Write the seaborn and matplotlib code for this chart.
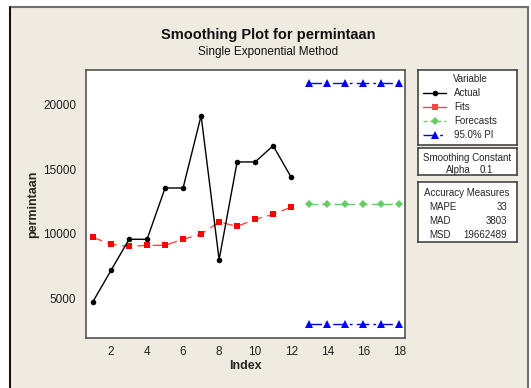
import matplotlib
matplotlib.use("Agg")
import matplotlib.pyplot as plt
import seaborn as sns
import pandas as pd
from matplotlib.patches import Rectangle

# data
index_actual = [1, 2, 3, 4, 5, 6, 7, 8, 9, 10, 11, 12]
actual = [4750, 7170, 9580, 9580, 13560, 13560, 19170, 8000, 15580, 15580, 16840, 14390]
fits = [9730, 9190, 9030, 9110, 9110, 9580, 9970, 10920, 10580, 11130, 11510, 12080]
index_forecast = [13, 14, 15, 16, 17, 18]
forecasts = [12300, 12300, 12300, 12300, 12300, 12300]
pi_upper = [21680, 21680, 21680, 21680, 21680, 21680]
pi_lower = [3000, 3000, 3000, 3000, 3000, 3000]
x_ticks = [2, 4, 6, 8, 10, 12, 14, 16, 18]
y_ticks = [5000, 10000, 15000, 20000]
measures = [("MAPE", "33"), ("MAD", "3803"), ("MSD", "19662489")]
alpha_value = "0.1"

W, H = 531, 388
BG = "#EFEBE0"

sns.set_style("white")
plt.rcParams["font.family"] = ["Liberation Sans", "DejaVu Sans"]


def px(x, y):
    # pixel position -> figure fraction
    return x / W, 1 - y / H


fig = plt.figure(figsize=(W / 100, H / 100), dpi=100)
fig.patch.set_facecolor("white")

# outer beige frame, kept behind the axes
fig.patches.append(Rectangle(px(10, 400), (528 - 10) / W, (400 - 7) / H,
                             transform=fig.transFigure, facecolor=BG,
                             edgecolor="#707070", linewidth=1.5, zorder=-5))
fig.add_artist(plt.Line2D([10 / W, 10 / W], [0, 1 - 7 / H], color="black", lw=1.2))

ax = fig.add_axes([86 / W, 1 - 338 / H, (405 - 86) / W, (338 - 70) / H])
ax.set_facecolor("white")

df_act = pd.DataFrame({"Index": index_actual, "Actual": actual, "Fits": fits})
df_fc = pd.DataFrame({"Index": index_forecast, "Forecasts": forecasts,
                      "Upper": pi_upper, "Lower": pi_lower})

pi_dash = (0, (9, 3, 2, 3))
sns.lineplot(data=df_fc, x="Index", y="Upper", ax=ax, color="#0000FF", lw=1,
             linestyle=pi_dash, marker="^", markersize=6, markeredgewidth=0)
sns.lineplot(data=df_fc, x="Index", y="Lower", ax=ax, color="#0000FF", lw=1,
             linestyle=pi_dash, marker="^", markersize=6, markeredgewidth=0)
sns.lineplot(data=df_fc, x="Index", y="Forecasts", ax=ax, color="#66CC66", lw=1,
             linestyle=(0, (6, 3)), marker="D", markersize=4, markeredgewidth=0)
sns.lineplot(data=df_act, x="Index", y="Fits", ax=ax, color="#FF4444", lw=1,
             linestyle=(0, (7, 4)), marker="s", markersize=4.5, markeredgewidth=0,
             markerfacecolor="#FF0000")
sns.lineplot(data=df_act, x="Index", y="Actual", ax=ax, color="black", lw=1,
             marker="o", markersize=4, markeredgewidth=0)

ax.set_xlim(0.61, 18.32)
ax.set_ylim(1918, 22716)
ax.set_xticks(x_ticks)
ax.set_yticks(y_ticks)
ax.tick_params(axis="both", direction="out", length=4, width=0.8, color="#333333",
               labelsize=8.5, labelcolor="#222222", pad=2)
ax.tick_params(axis="y", pad=3)
for s in ax.spines.values():
    s.set_color("#555555")
    s.set_linewidth(1.2)
ax.set_xlabel("Index", fontsize=9, fontweight="bold", labelpad=1)
ax.set_ylabel("permintaan", fontsize=9, fontweight="bold", labelpad=3)

fig.text(*px(268, 35), "Smoothing Plot for permintaan", ha="center", va="center",
         fontsize=10.5, fontweight="bold", color="#111111")
fig.text(*px(268, 52), "Single Exponential Method", ha="center", va="center",
         fontsize=8.5, color="#111111")


def box(y0, y1):
    b = fig.add_axes([418 / W, 1 - y1 / H, (517 - 418) / W, (y1 - y0) / H])
    b.set_facecolor("white")
    b.set_xticks([])
    b.set_yticks([])
    for s in b.spines.values():
        s.set_color("#444444")
        s.set_linewidth(1.2)
    return b


box(70, 145)
box(148, 175)
box(182, 242)

fs = 7
fig.text(*px(470, 79), "Variable", ha="center", va="center", fontsize=fs)
legend_rows = [
    ("Actual", "black", "-", "o", 4, 93),
    ("Fits", "#FF4444", "-", "s", 4.5, 107),
    ("Forecasts", "#66CC66", (0, (3, 2)), "D", 4, 121),
    ("95.0% PI", "#0000FF", (0, (9, 3, 2, 3)), "^", 5.5, 135),
]
for label, col, ls, mk, ms, y in legend_rows:
    xa, ya = px(423, y)
    xb, _ = px(446, y)
    fig.add_artist(plt.Line2D([xa, xb], [ya, ya], color=col, lw=1, linestyle=ls))
    fig.add_artist(plt.Line2D([(xa + xb) / 2], [ya], color=col, marker=mk,
                              markersize=ms, markeredgewidth=0, linestyle="none"))
    fig.text(*px(454, y), label, ha="left", va="center", fontsize=fs)

fig.text(*px(467, 158), "Smoothing Constant", ha="center", va="center", fontsize=fs)
fig.text(*px(446, 170), "Alpha", ha="left", va="center", fontsize=fs)
fig.text(*px(480, 170), alpha_value, ha="left", va="center", fontsize=fs)

fig.text(*px(467, 193), "Accuracy Measures", ha="center", va="center", fontsize=fs)
for i, (name, val) in enumerate(measures):
    y = 207 + 14 * i
    fig.text(*px(429, y), name, ha="left", va="center", fontsize=fs)
    fig.text(*px(507, y), val, ha="right", va="center", fontsize=fs)

fig.savefig("out.png", dpi=100)
